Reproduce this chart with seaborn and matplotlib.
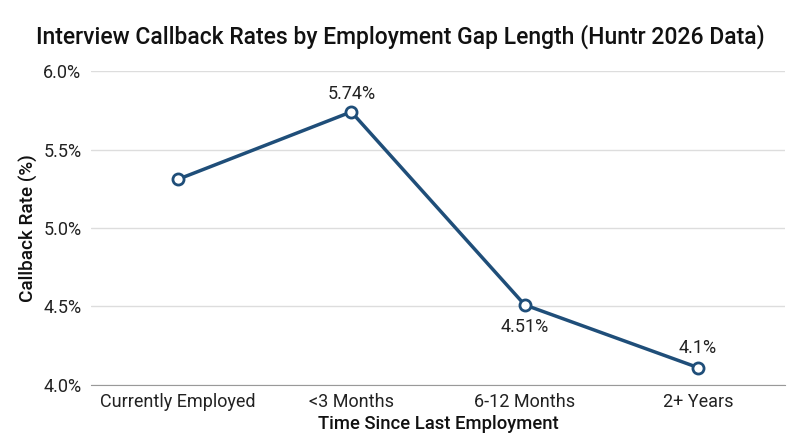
import seaborn as sns
import matplotlib.pyplot as plt
import pandas as pd

gap_labels = ["Currently Employed", "<3 Months", "6-12 Months", "2+ Years"]
callback_rates = [5.31, 5.74, 4.51, 4.11]
point_labels = ["", "5.74%", "4.51%", "4.1%"]

df = pd.DataFrame({"Gap": gap_labels, "Rate": callback_rates})

sns.set_style("white")
plt.rcParams['font.family'] = ['Roboto', 'DejaVu Sans']

navy = "#1f4e79"
fig = plt.figure(figsize=(8, 4.47), dpi=100)
ax = fig.add_axes([0.114, 0.139, 0.867, 0.702])

sns.lineplot(data=df, x="Gap", y="Rate", ax=ax, color=navy, linewidth=2.5,
             marker="o", markersize=8, markerfacecolor="white",
             markeredgecolor=navy, markeredgewidth=2, sort=False)

# labels above / below points
offsets = [0, 13, -16, 14]
for i, (v, lab) in enumerate(zip(callback_rates, point_labels)):
    if lab:
        ax.annotate(lab, (i, v), xytext=(0, offsets[i]), textcoords="offset points",
                    ha="center", va="center", fontsize=13, color="#222222")

ax.set_xlim(-0.5, 3.5)
ax.set_ylim(4.0, 6.0)
ax.set_yticks([4.0, 4.5, 5.0, 5.5, 6.0])
ax.set_yticklabels([f"{t:.1f}%" for t in [4.0, 4.5, 5.0, 5.5, 6.0]])
ax.yaxis.grid(True, color="#dddddd", linewidth=1)
ax.set_axisbelow(True)
for s in ["top", "right", "left"]:
    ax.spines[s].set_visible(False)
ax.spines["bottom"].set_color("#999999")
ax.tick_params(axis="both", labelsize=13, length=0, colors="#222222")
ax.tick_params(axis="x", pad=6)
ax.tick_params(axis="y", pad=7)

ax.set_xlabel("Time Since Last Employment", fontsize=13.3, fontweight="medium",
              color="#111111", labelpad=3)
ax.set_ylabel("Callback Rate (%)", fontsize=13.6, fontweight="medium",
              color="#111111", labelpad=4)
fig.suptitle("Interview Callback Rates by Employment Gap Length (Huntr 2026 Data)",
             x=0.5, y=0.945, fontsize=16.5, fontweight="medium", color="#111111")

fig.savefig("out.png", dpi=100)
